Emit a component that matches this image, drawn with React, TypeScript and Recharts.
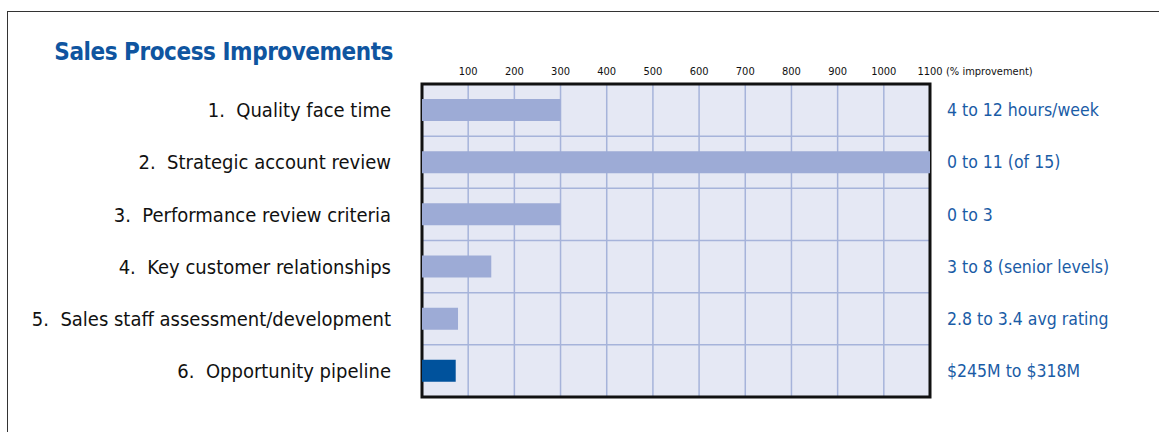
import React from "react";
import {
  BarChart,
  Bar,
  XAxis,
  YAxis,
  CartesianGrid,
  Cell,
  ReferenceArea,
} from "recharts";

const categories = [
  "1.\u00A0 Quality face time",
  "2.\u00A0 Strategic account review",
  "3.\u00A0 Performance review criteria",
  "4.\u00A0 Key customer relationships",
  "5.\u00A0 Sales staff assessment/development",
  "6.\u00A0 Opportunity pipeline",
];
const improvement = [300, 1100, 300, 150, 78, 73];
const results = [
  "4 to 12 hours/week",
  "0 to 11 (of 15)",
  "0 to 3",
  "3 to 8 (senior levels)",
  "2.8 to 3.4 avg rating",
  "$245M to $318M",
];
const xTicks = [100, 200, 300, 400, 500, 600, 700, 800, 900, 1000, 1100];
const unitLabel = "(% improvement)";
const title = "Sales Process Improvements";

const data = categories.map((c, i) => ({
  name: c,
  value: improvement[i],
  result: results[i],
}));

const FONT = "'Liberation Sans Narrow', 'DejaVu Sans Condensed', 'Arial Narrow', sans-serif";
const BLUE = "#0f55a0";
const LIGHT_BAR = "#9dabd6";
const DARK_BAR = "#00529c";
const GRID = "#a6b3da";
const BG = "#e5e8f4";

const XTick = (props: any) => {
  const { x, y, payload } = props;
  const isLast = payload.value === xTicks[xTicks.length - 1];
  return (
    <g>
      <text x={x} y={y - 1} textAnchor="middle" fontSize={11} fill="#111" fontFamily={FONT}>
        {payload.value}
      </text>
      {isLast && (
        <text x={x + 16} y={y - 1} textAnchor="start" fontSize={11} fill="#111" fontFamily={FONT}>
          {unitLabel}
        </text>
      )}
    </g>
  );
};

const hGen = (props: any) => {
  const { yAxis, offset } = props;
  const n = categories.length;
  if (yAxis && yAxis.scale && typeof yAxis.scale === "function") {
    const out: number[] = [];
    for (let i = 1; i < n; i++) {
      const v = yAxis.scale(categories[i]);
      if (typeof v === "number" && !isNaN(v)) out.push(v);
    }
    if (out.length === n - 1) return out;
  }
  const arr: number[] = [];
  for (let i = 1; i < n; i++) arr.push(offset.top + (offset.height * i) / n);
  return arr;
};

export default function App() {
  return (
    <div
      style={{
        position: "absolute",
        left: 0,
        top: 0,
        width: 1159,
        height: 432,
        overflow: "hidden",
        background: "#fff",
      }}
    >
      <div
        style={{
          position: "absolute",
          left: 7,
          top: 11,
          width: 1300,
          height: 600,
          borderLeft: "1px solid #333",
          borderTop: "1px solid #333",
        }}
      />
      <div
        style={{
          position: "absolute",
          left: 0,
          width: 393,
          top: 35,
          textAlign: "right",
          fontFamily: FONT,
          fontWeight: "bold",
          fontSize: 24,
          letterSpacing: "-0.45px",
          color: BLUE,
          lineHeight: "34px",
          whiteSpace: "nowrap",
        }}
      >
        {title}
      </div>
      <div style={{ position: "absolute", left: 0, top: 0 }}>
        <BarChart
          width={1159}
          height={432}
          data={data}
          layout="vertical"
          margin={{ top: 54, right: 0, bottom: 35, left: 0 }}
        >
          <CartesianGrid
            fill={BG}
            stroke={GRID}
            strokeWidth={1.5}
            horizontalCoordinatesGenerator={hGen}
          />
          <XAxis
            type="number"
            orientation="top"
            domain={[0, 1100]}
            ticks={xTicks}
            axisLine={false}
            tickLine={false}
            tickSize={0}
            tickMargin={8}
            height={30}
            tick={<XTick />}
            interval={0}
          />
          <YAxis
            type="category"
            dataKey="name"
            width={422}
            axisLine={false}
            tickLine={false}
            tickSize={0}
            tickMargin={31}
            interval={0}
            tick={{ fill: "#111", fontSize: 20, fontFamily: FONT }}
          />
          <YAxis
            yAxisId="right"
            orientation="right"
            type="category"
            dataKey="result"
            width={229}
            axisLine={false}
            tickLine={false}
            tickSize={0}
            tickMargin={17}
            interval={0}
            tick={{ fill: "#1a5ca6", fontSize: 17.5, fontFamily: FONT, textAnchor: "start" }}
          />
          <Bar dataKey="value" barSize={22} isAnimationActive={false}>
            {data.map((d, i) => (
              <Cell key={d.name} fill={i === data.length - 1 ? DARK_BAR : LIGHT_BAR} />
            ))}
          </Bar>
          <ReferenceArea
            x1={0}
            x2={1100}
            fill="none"
            stroke="#111"
            strokeWidth={3}
            ifOverflow="visible"
          />
        </BarChart>
      </div>
    </div>
  );
}
